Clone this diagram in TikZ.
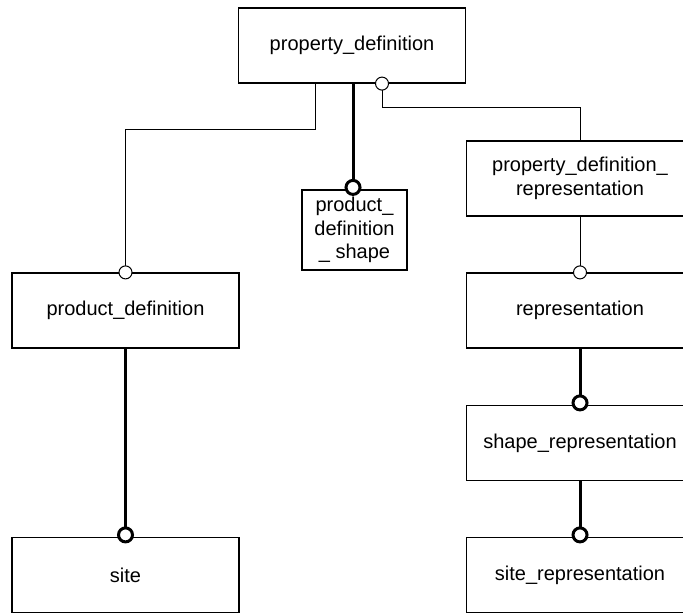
\documentclass[tikz,border=0pt]{standalone}
\usepackage{fontspec}
\setmainfont{Liberation Sans}
\usetikzlibrary{arrows.meta}

\begin{document}
\begin{tikzpicture}[x=0.5pt,y=-0.5pt,
  entity/.style={draw, line width=0.6pt, rectangle, minimum width=113.5pt,
    minimum height=37.5pt, inner sep=0pt, align=center,
    font=\fontsize{10}{11.75}\selectfont},
  small entity/.style={entity, minimum width=52.5pt, minimum height=40pt},
  optional/.style={line width=0.5pt, -{Circle[length=7pt, fill=white]}},
  supertype/.style={line width=1.5pt, -{Circle[length=8.5pt, fill=white]}}]
\useasboundingbox (0,0) rectangle (683,614);
\node[entity] (pd) at (352,45.5) {property\_definition};
\node[small entity] (pds) at (354.5,230) {product\_\\definition\\\_ shape};
\node[entity] (pdr) at (580,178.5) {property\_definition\_\\representation};
\node[entity] (prd) at (125.5,310.5) {product\_definition};
\node[entity] (rep) at (580,310.5) {representation};
\node[entity] (shr) at (580,443) {shape\_representation};
\node[entity] (site) at (125.5,575) {site};
\node[entity] (sr) at (580,575) {site\_representation};
\draw[optional] ([xshift=-18.5pt]pd.south) -- ++(0,46) -| ([yshift=-3.5pt]prd.north);
\draw[optional] (pdr.north) -- ++(0,-33) -| ([xshift=15pt,yshift=3.5pt]pd.south);
\draw[optional] (pdr.south) -- ([yshift=-3.5pt]rep.north);
\draw[supertype] ([xshift=0.5pt]pd.south) -- ([xshift=0.5pt,yshift=-3.25pt]pd.south |- pds.north);
\draw[supertype] (prd.south) -- ([yshift=-3.25pt]site.north);
\draw[supertype] (rep.south) -- ([yshift=-3.25pt]shr.north);
\draw[supertype] (shr.south) -- ([yshift=-3.25pt]sr.north);
\end{tikzpicture}
\end{document}
